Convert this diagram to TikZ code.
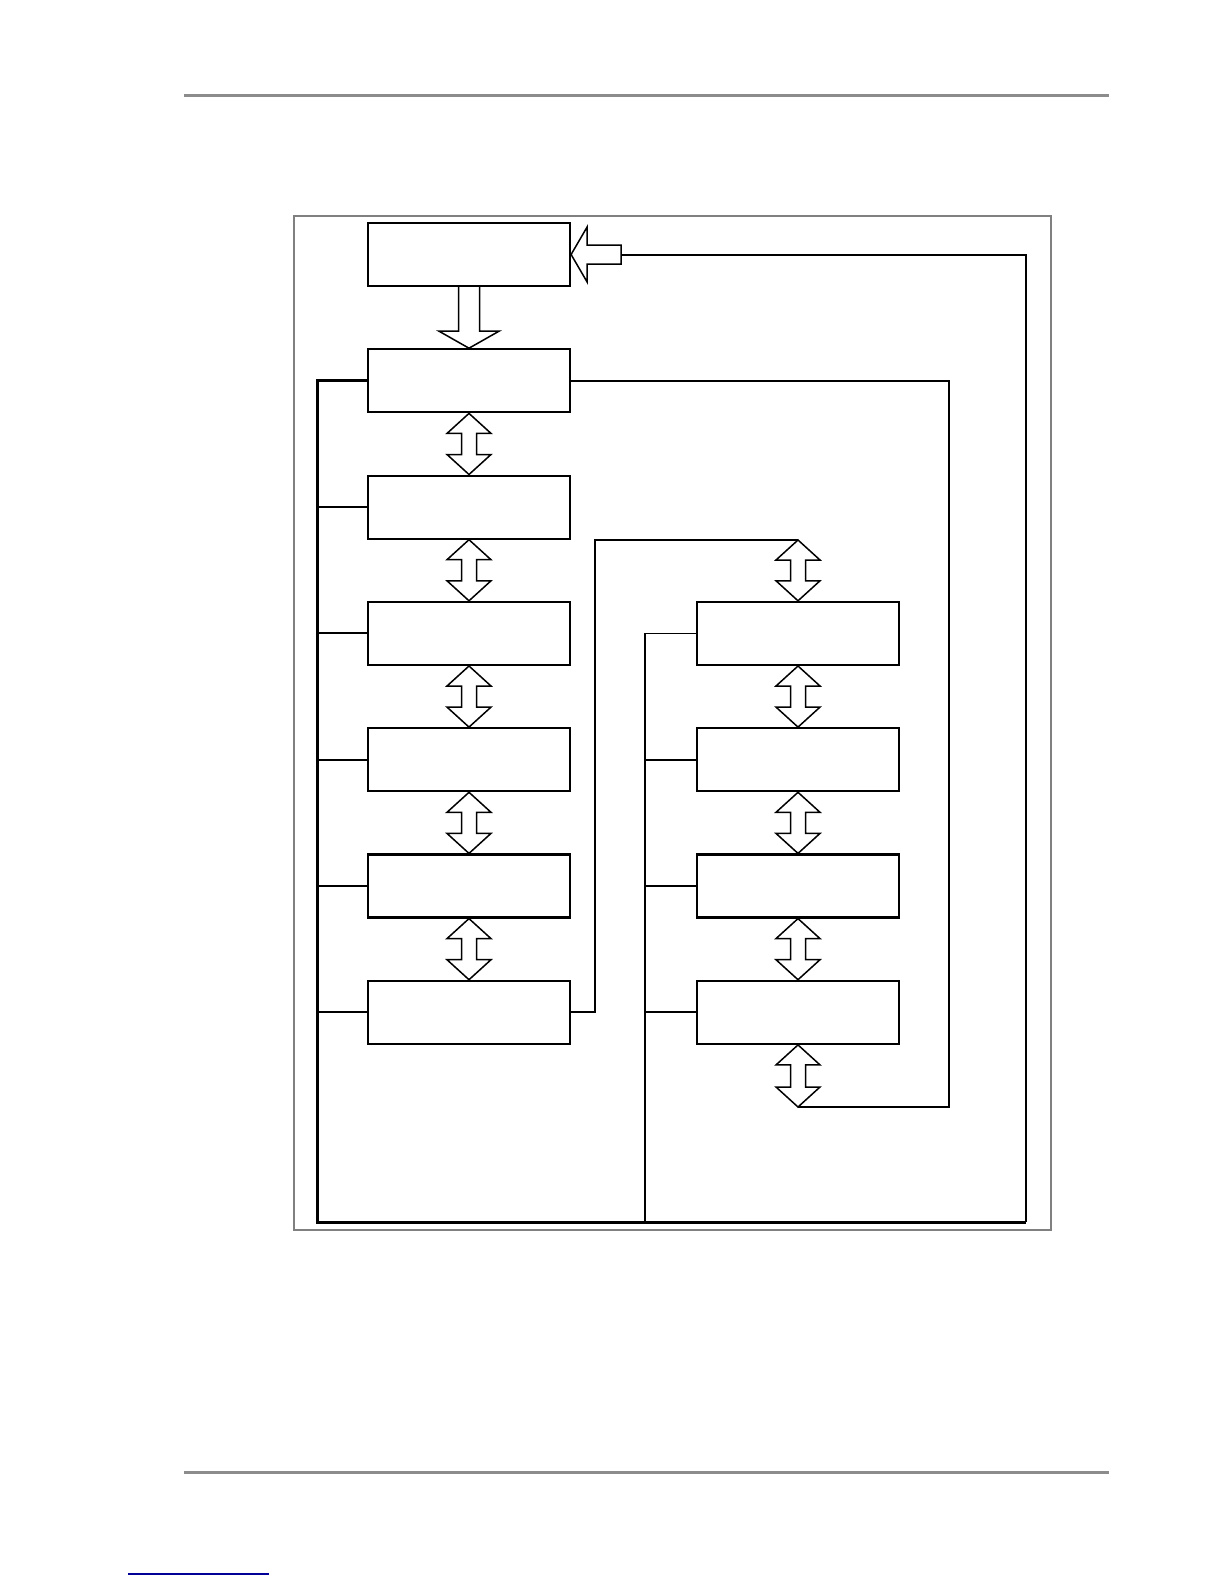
\documentclass[tikz,border=0pt]{standalone}
\usetikzlibrary{calc}
\tikzset{blk/.style={draw,line width=1.1pt,minimum width=101pt,minimum height=31.5pt,inner sep=0pt},
  hollow/.style={draw,line width=0.75pt,fill=white,line join=miter},
  wire/.style={line width=1pt},
  bus/.style={line width=1.5pt}}
\newcommand{\twoway}[2]{\draw[hollow] (#1) -- ++(22,20) -- ++(-14.5,0) -- ($(#2)+(7.5,-20)$) -- ++(14.5,0) -- (#2) -- ++(-22,-20) -- ++(14.5,0) -- ($(#1)+(-7.5,20)$) -- ++(-14.5,0) -- cycle;}
\begin{document}
\begin{tikzpicture}[x=0.5pt,y=-0.5pt]
\useasboundingbox (0,0) rectangle (1224,1584);
\draw[gray!90,line width=1.5pt] (184,96) -- (1109,96);
\draw[gray!90,line width=1.5pt] (184,1472) -- (1109,1472);
\draw[blue!60!black,line width=0.8pt] (128,1574) -- (269,1574);
\draw[gray,line width=0.7pt] (294,216) rectangle (1051,1230);
\node[blk] (s) at (469,254.5) {};
\foreach \i in {1,...,6} \node[blk] (l\i) at (469,{254.5+126.3*\i}) {};
\foreach \i in {1,...,4} \node[blk] (r\i) at (798,{254.5+126.3*(\i+2)}) {};
\coordinate (busL) at (317,1222); \coordinate (busR) at (1026,1222);
\coordinate (busM) at (645,1222); \coordinate (tail) at (621,254.5);
\coordinate (jog) at (595,540); \coordinate (rtop) at (798,540);
\coordinate (loopR) at (949,1107); \coordinate (rbot) at (798,1107);
\draw[bus] (l1.west) -| (busL) -- (busR);
\draw[wire] (busR) |- (tail);
\foreach \i in {2,...,6} \draw[wire] (l\i.west) -- (l\i.west -| busL);
\draw[line width=0.8pt] (r1.west) -| (busM);
\foreach \i in {2,3,4} \draw[wire] (r\i.west) -- (r\i.west -| busM);
\draw[wire] (l6.east) -| (jog) -- (rtop);
\draw[wire] (l1.east) -| (loopR) -- (rbot);
\draw[hollow] ($(s.south)+(-10.5,0)$) -- ($(l1.north)+(-10.5,-17)$) -- ++(-19.5,0) -- (l1.north) -- ++(30,-17) -- ++(-19.5,0) -- ($(s.south)+(10.5,0)$);
\draw[hollow] (s.east) -- ++(16,-27.5) -- ++(0,18) -- ($(tail)+(0,-9.5)$) -- ($(tail)+(0,9.5)$) -- ($(s.east)+(16,9.5)$) -- ++(0,18) -- cycle;
\foreach \a/\b in {l1/l2,l2/l3,l3/l4,l4/l5,l5/l6,r1/r2,r2/r3,r3/r4} \twoway{\a.south}{\b.north};
\twoway{rtop}{r1.north}
\twoway{r4.south}{rbot}
\end{tikzpicture}
\end{document}
